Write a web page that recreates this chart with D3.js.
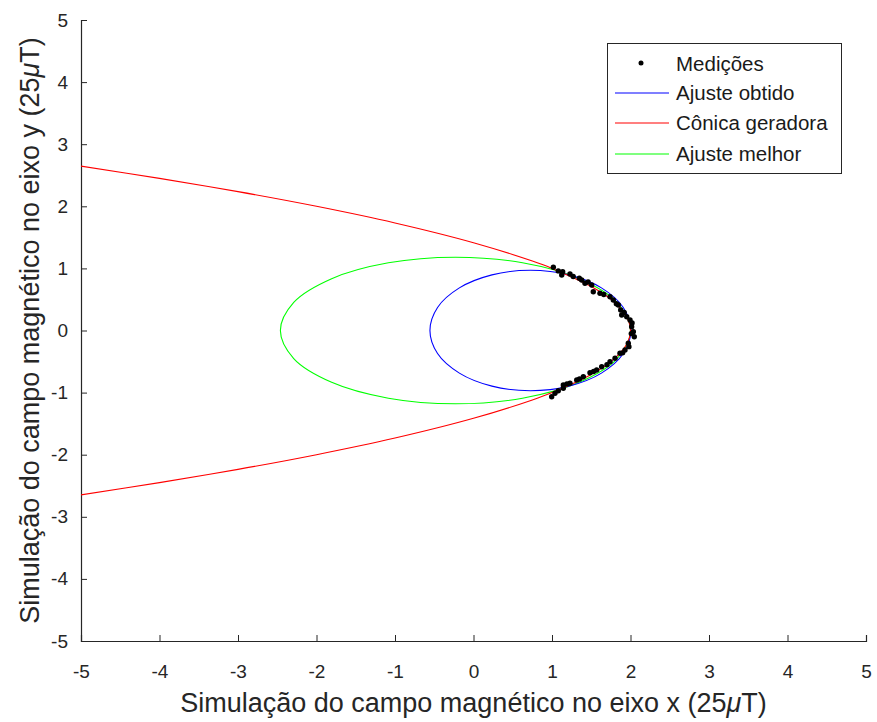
<!DOCTYPE html>
<html><head><meta charset="utf-8">
<script src="https://cdn.jsdelivr.net/npm/d3@7"></script>
<style>body{margin:0;background:#fff;} text{font-family:"Liberation Sans",Arial,sans-serif;}</style>
</head><body>
<svg id="c" width="877" height="722"></svg>
<script>
// Measurements (black dots)
const measX = [1.017,1.080,1.124,1.136,1.229,1.270,1.348,1.378,1.420,1.460,1.506,1.526,1.611,1.660,1.739,1.781,1.820,1.845,1.875,1.888,1.920,1.952,1.994,2.020,2.015,2.036,2.010,2.048,1.972,1.980,1.930,1.900,1.866,1.803,1.739,1.700,1.633,1.569,1.530,1.484,1.399,1.350,1.315,1.229,1.190,1.144,1.144,1.080,1.038,0.996];
const measY = [1.018,0.960,0.894,0.947,0.910,0.870,0.841,0.813,0.760,0.780,0.733,0.625,0.599,0.580,0.544,0.491,0.430,0.411,0.330,0.250,0.290,0.222,0.169,0.120,0.061,-0.019,-0.050,-0.100,-0.206,-0.260,-0.314,-0.360,-0.367,-0.448,-0.502,-0.550,-0.583,-0.636,-0.660,-0.680,-0.744,-0.780,-0.797,-0.850,-0.860,-0.878,-0.931,-0.970,-1.011,-1.066];
// Ajuste obtido (blue ellipse), sampled points
const blueX = [2.005,1.908,1.630,1.215,0.725,0.235,-0.180,-0.458,-0.555,-0.458,-0.180,0.235,0.725,1.215,1.630,1.908];
const blueY = [0,0.371,0.686,0.896,0.970,0.896,0.686,0.371,0,-0.371,-0.686,-0.896,-0.970,-0.896,-0.686,-0.371];
// Ajuste melhor (green ellipse)
const greenX = [2.0,1.830,1.347,0.624,-0.23,-1.084,-1.807,-2.290,-2.46,-2.290,-1.807,-1.084,-0.23,0.624,1.347,1.830];
const greenY = [0,0.452,0.834,1.090,1.18,1.090,0.834,0.452,0,-0.452,-0.834,-1.090,-1.18,-1.090,-0.834,-0.452];
// Cônica geradora (red)
const redX = [-5.02,-4,-3,-2,-1,0,0.75,1,1.5,1.75,1.9375,2,1.9375,1.75,1.5,1,0.75,0,-1,-2,-3,-4,-5.02];
const redY = [2.65,2.449,2.236,2,1.732,1.414,1.118,1,0.707,0.5,0.25,0,-0.25,-0.5,-0.707,-1,-1.118,-1.414,-1.732,-2,-2.236,-2.449,-2.65];
const xTicks = [-5,-4,-3,-2,-1,0,1,2,3,4,5];
const yTicks = [-5,-4,-3,-2,-1,0,1,2,3,4,5];
const legendLabels = ["Medições","Ajuste obtido","Cônica geradora","Ajuste melhor"];

const svg = d3.select("#c");
const L=81, R=866, T=20, B=641;
const x = d3.scaleLinear().domain([-5,5]).range([L,R]);
const y = d3.scaleLinear().domain([-5,5]).range([B,T]);
const axCol = "#262626";
const FONT = "'Liberation Sans',Arial,sans-serif";

svg.append("defs").append("clipPath").attr("id","clip").append("rect")
  .attr("x",L).attr("y",T).attr("width",R-L).attr("height",B-T);

const xAxis = svg.append("g").attr("transform",`translate(0,${B})`)
  .call(d3.axisBottom(x).tickValues(xTicks).tickSize(-6).tickPadding(24));
const yAxis = svg.append("g").attr("transform",`translate(${L},0)`)
  .call(d3.axisLeft(y).tickValues(yTicks).tickSize(-6).tickPadding(13));
[xAxis,yAxis].forEach(g=>{
  g.select(".domain").attr("stroke",axCol).attr("stroke-width",1.2);
  g.selectAll(".tick line").attr("stroke",axCol);
  g.selectAll(".tick text").attr("fill",axCol).style("font-size","19px")
   .style("font-family",FONT)
   .text(d=> d<0 ? "-"+Math.abs(d) : d);
});

const plot = svg.append("g").attr("clip-path","url(#clip)");
const line = d3.line().x(d=>x(d[0])).y(d=>y(d[1]));
const zip = (a,b)=>a.map((v,i)=>[v,b[i]]);

plot.append("path").datum(zip(greenX,greenY))
  .attr("d",line.curve(d3.curveCatmullRomClosed)).attr("fill","none").attr("stroke","#00ff00").attr("stroke-width",1.1);
plot.append("path").datum(zip(blueX,blueY))
  .attr("d",line.curve(d3.curveCatmullRomClosed)).attr("fill","none").attr("stroke","#0000ff").attr("stroke-width",1.1);
plot.append("path").datum(zip(redX,redY))
  .attr("d",line.curve(d3.curveCatmullRom)).attr("fill","none").attr("stroke","#ff0000").attr("stroke-width",1.1);
plot.selectAll("circle.m").data(zip(measX,measY)).join("circle").attr("class","m")
  .attr("cx",d=>x(d[0])).attr("cy",d=>y(d[1])).attr("r",2.7).attr("fill","#000");

// Legend
const lg = svg.append("g");
lg.append("rect").attr("x",607.5).attr("y",43.5).attr("width",234).attr("height",130)
  .attr("fill","#fff").attr("stroke",axCol).attr("stroke-width",1);
const lgY = [64,93,123,154];
const lgCol = [null,"#0000ff","#ff0000","#00ff00"];
legendLabels.forEach((t,i)=>{
  if(i===0){
    lg.append("circle").attr("cx",641).attr("cy",lgY[i]-1).attr("r",2.5).attr("fill","#000");
  } else {
    lg.append("line").attr("x1",615).attr("x2",669).attr("y1",lgY[i]).attr("y2",lgY[i])
      .attr("stroke",lgCol[i]).attr("stroke-width",1.1);
  }
  lg.append("text").attr("x",676).attr("y",lgY[i]+7).attr("fill","#1a1a1a")
    .style("font-size","20.5px").text(t);
});

// Axis labels
const xl = svg.append("text").attr("x",(L+R)/2).attr("y",712).attr("text-anchor","middle")
  .attr("fill","#262626").style("font-size","27px");
xl.append("tspan").text("Simulação do campo magnético no eixo x (25");
xl.append("tspan").style("font-style","italic").text("μ");
xl.append("tspan").text("T)");
const yl = svg.append("text").attr("transform",`translate(39,${(T+B)/2}) rotate(-90)`).attr("text-anchor","middle")
  .attr("fill","#262626").style("font-size","27px");
yl.append("tspan").text("Simulação do campo magnético no eixo y (25");
yl.append("tspan").style("font-style","italic").text("μ");
yl.append("tspan").text("T)");
</script>
</body></html>
